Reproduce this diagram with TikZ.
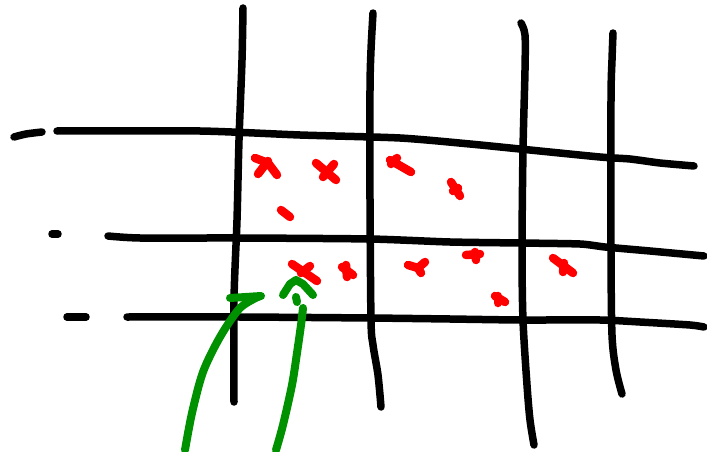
\documentclass[tikz,border=0pt]{standalone}
\usetikzlibrary{calc}
\definecolor{inkred}{RGB}{255,0,0}
\definecolor{inkgreen}{RGB}{0,145,0}
\tikzset{
  gridline/.style={draw=black, line width=7.5pt, line cap=round, line join=round},
  redmark/.style={draw=inkred, line width=8.5pt, line cap=round, line join=round},
  greenpen/.style={draw=inkgreen, line width=8pt, line cap=round, line join=round}
}
\begin{document}
\begin{tikzpicture}[x=1pt,y=-1pt]
\useasboundingbox (0,0) rectangle (707,452);
% vertical lines
\draw[gridline] plot[smooth, tension=0.5] coordinates {(243,8) (242,60) (239,140) (237,220) (234,300) (234,402)};
\draw[gridline] plot[smooth, tension=0.5] coordinates {(373,13) (371,50) (370,90) (370,200) (371,320) (373,345) (378,375) (381,407)};
\draw[gridline] plot[smooth, tension=0.5] coordinates {(521,23) (525,35) (525,70) (523,150) (522,250) (523,320) (527,385) (530,420) (534,445)};
\draw[gridline] plot[smooth, tension=0.5] coordinates {(613,33) (612,60) (611,100) (611,250) (612,335) (616,370) (622,394)};
% horizontal lines
\draw[gridline] plot[smooth, tension=0.5] coordinates {(14,137) (26,134) (42,132)};
\draw[gridline] plot[smooth, tension=0.4] coordinates {(57,131) (200,131) (300,135) (400,138) (470,144) (520,149) (600,157) (630,159) (660,163) (694,166)};
\draw[gridline] (52,234) -- (58,234);
\draw[gridline] plot[smooth, tension=0.4] coordinates {(108,236) (140,238) (240,238) (370,239) (450,242) (520,243) (580,244) (605,247) (650,251) (704,256)};
\draw[gridline] (67,317) -- (86,317);
\draw[gridline] plot[smooth, tension=0.4] coordinates {(127,317) (240,317) (370,318) (450,319) (520,320) (600,320) (640,322) (690,325) (704,327)};
% red marks
\draw[redmark] (255,158) -- (268,163) -- (277,175);
\draw[redmark] (258,174) -- (268,161);
\draw[redmark] (316,163) -- (336,180);
\draw[redmark] (323,177) -- (334,164);
\draw[redmark] (390,160) -- (411,172);
\draw[redmark] (391,164) -- (397,158);
\draw[redmark] (451,182) -- (460,196);
\draw[redmark] (453,191) -- (458,188);
\draw[redmark] (281,210) -- (290,217);
\draw[redmark] (292,264) -- (317,281);
\draw[redmark] (301,273) -- (310,266);
\draw[redmark] (342,267) -- (353,275);
\draw[redmark] (346,265) -- (347,277);
\draw[redmark] (408,265) -- (418,268) -- (425,262);
\draw[redmark] (418,268) -- (421,273);
\draw[redmark] (466,255) -- (480,254);
\draw[redmark] (475,252) -- (476,260);
\draw[redmark] (495,296) -- (505,302);
\draw[redmark] (498,296) -- (498,303);
\draw[redmark] (553,258) -- (573,273);
\draw[redmark] (564,263) -- (563,272);
% green arrows
\draw[greenpen] plot[smooth, tension=0.5] coordinates {(185,450) (192,413) (203,372) (220,337) (240,308) (260,296)};
\draw[greenpen] (230,298) -- (261,296);
\draw[greenpen] plot[smooth, tension=0.5] coordinates {(276,450) (283,425) (292,385) (297,353) (301,325) (303,308)};
\draw[greenpen] (296,297) -- (297,302);
\draw[greenpen] (283,295) -- (290,284) -- (296,280) -- (303,284) -- (313,295);
\end{tikzpicture}
\end{document}
